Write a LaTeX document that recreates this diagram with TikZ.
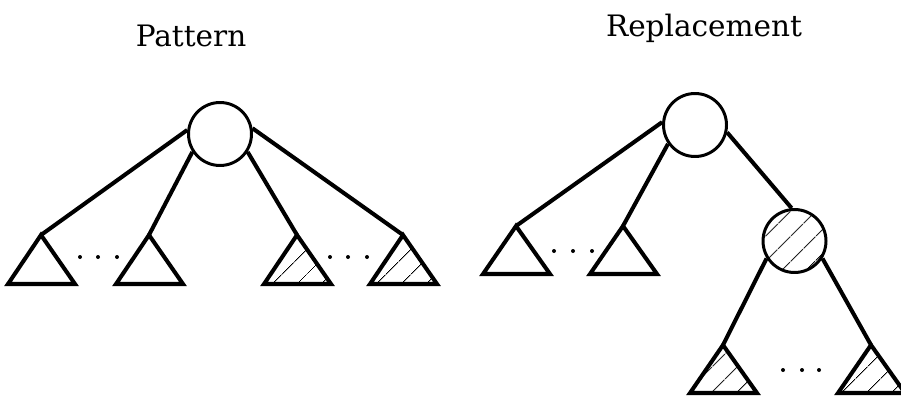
\documentclass[tikz,border=0pt]{standalone}
\usepackage{fontspec}
\setmainfont{DejaVu Serif}
\usetikzlibrary{patterns.meta}

\begin{document}
\begin{tikzpicture}[
  x=0.02cm, y=-0.02cm,
  vertex/.style={circle, draw, line width=1.7pt, minimum size=1.26cm, inner sep=0pt},
  hatch/.style={pattern={Lines[angle=45, distance=10.5pt, line width=0.6pt]}},
  edge/.style={line width=2.3pt},
  subtree/.style={line width=2.3pt, line join=miter},
  dot/.style={fill, radius=0.04cm},
  title/.style={font=\fontsize{16.8}{20}\selectfont, anchor=base},
]
\useasboundingbox (0,0) rectangle (901,396);

% ---- Titles ----
\node[title] (ptitle) at (191,46) {Pattern};
\node[title] (rtitle) at (704,36) {Replacement};

% ---- Pattern tree ----
\node[vertex] (proot) at (220,134) {};

\coordinate (pa1) at (41,235);
\coordinate (pa2) at (149,235);
\coordinate (pa3) at (297,235);
\coordinate (pa4) at (403,235);

\draw[subtree] (pa1) -- ++(-33,49) -- ++(67,0) -- cycle;
\draw[subtree] (pa2) -- ++(-33,49) -- ++(67,0) -- cycle;
\draw[subtree, hatch] (pa3) -- ++(-33,49) -- ++(67,0) -- cycle;
\draw[subtree, hatch] (pa4) -- ++(-33,49) -- ++(67,0) -- cycle;

\draw[edge] (proot.173) -- (pa1);
\draw[edge] (proot.213) -- (pa2);
\draw[edge] (proot.327) -- (pa3);
\draw[edge] (proot.10) -- (pa4);

\foreach \x in {80,98,117,330,348,367}
  \fill[dot] (\x,257) circle;

% ---- Replacement tree ----
\node[vertex] (rroot) at (695,125) {};
\node[vertex, hatch] (rmid) at (794.5,241) {};

\coordinate (ra1) at (516,226);
\coordinate (ra2) at (623,226);
\coordinate (rb1) at (723,345);
\coordinate (rb2) at (871,345);

\draw[subtree] (ra1) -- ++(-33,48) -- ++(67,0) -- cycle;
\draw[subtree] (ra2) -- ++(-33,48) -- ++(67,0) -- cycle;
\draw[subtree, hatch] (rb1) -- ++(-33,48) -- ++(67,0) -- cycle;
\draw[subtree, hatch] (rb2) -- ++(-33,48) -- ++(67,0) -- cycle;

\draw[edge] (rroot.175) -- (ra1);
\draw[edge] (rroot.215) -- (ra2);
\draw[edge] (rroot.-13) -- (rmid.95);
\draw[edge] (rmid.212) -- (rb1);
\draw[edge] (rmid.-32) -- (rb2);

\foreach \x in {554,573,592}
  \fill[dot] (\x,251) circle;
\foreach \x in {783,802,819}
  \fill[dot] (\x,370) circle;

\end{tikzpicture}
\end{document}
